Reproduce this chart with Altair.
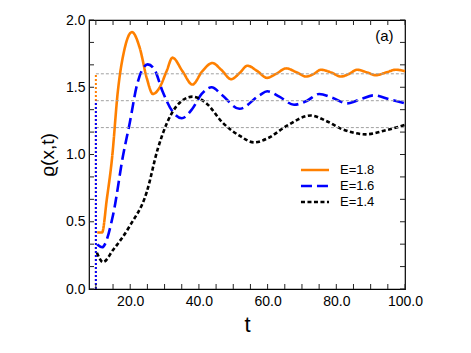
import altair as alt
import pandas as pd

# ---- data ----
t_18 = [10.4, 11.8, 13.2, 14.7, 16.4, 18.4, 20.5, 22.8, 24.8, 26.6, 28.6, 30.6, 32.3, 35.2, 38.1,
        41.0, 43.9, 46.5, 49.4, 52.0, 54.1, 57.0, 59.8, 62.5, 65.4, 68.5, 71.2, 73.5, 75.5, 78.5,
        81.3, 83.8, 86.0, 89.0, 91.5, 94.5, 97.3, 100.0]
rho_18 = [0.42, 0.42, 0.67, 0.97, 1.47, 1.79, 1.91, 1.79, 1.57, 1.45, 1.50, 1.62, 1.72, 1.62, 1.52,
          1.62, 1.68, 1.63, 1.56, 1.61, 1.66, 1.62, 1.57, 1.60, 1.64, 1.61, 1.58, 1.60, 1.63, 1.61,
          1.58, 1.60, 1.63, 1.61, 1.59, 1.61, 1.63, 1.62]

t_16 = [10.4, 11.8, 15.0, 17.9, 19.9, 21.9, 23.7, 25.1, 27.1, 29.4, 32.3, 35.0, 38.1, 40.8, 43.7,
        46.8, 51.8, 57.6, 59.9, 63.4, 67.7, 71.5, 75.0, 79.0, 83.1, 87.0, 90.9, 95.5, 100.0]
rho_16 = [0.33, 0.31, 0.55, 0.99, 1.24, 1.51, 1.64, 1.67, 1.63, 1.47, 1.32, 1.27, 1.34, 1.45, 1.50,
          1.44, 1.34, 1.44, 1.47, 1.43, 1.37, 1.40, 1.45, 1.42, 1.38, 1.41, 1.44, 1.41, 1.38]

t_14 = [10.3, 12.1, 15.0, 19.9, 24.8, 28.0, 33.5, 38.1, 42.2, 46.8, 51.8, 56.1, 60.0, 65.4, 72.6,
        77.0, 81.6, 88.6, 94.4, 100.0]
rho_14 = [0.27, 0.20, 0.29, 0.47, 0.72, 1.04, 1.36, 1.43, 1.38, 1.24, 1.14, 1.09, 1.12, 1.21, 1.29,
          1.25, 1.19, 1.15, 1.18, 1.22]

series = ["E=1.8", "E=1.6", "E=1.4"]
colors = ["#ff8000", "#0000ff", "#000000"]
dashes = [[1, 0], [11, 5], [4, 2.5]]
levels = [1.6, 1.4, 1.2]      # asymptotic levels (gray reference lines)
t_start = 10.0                # initial step position
t_end = 100.0

x_ticks = [10 + 5 * i for i in range(19)]
y_ticks = [i / 6 for i in range(13)]

W, H = 316, 269
TICK = 5

rows = []
for name, ts, vs in zip(series, [t_18, t_16, t_14], [rho_18, rho_16, rho_14]):
    for t, v in zip(ts, vs):
        rows.append({"t": t, "rho": v, "E": name})
df = pd.DataFrame(rows)

ref = pd.DataFrame({"t": [t_start] * 3, "t2": [t_end] * 3, "rho": levels, "E": series})
step_df = ref.iloc[:2]   # E=1.8 first, E=1.6 drawn on top
xt_df = pd.DataFrame({"t": x_ticks})
yt_df = pd.DataFrame({"rho": y_ticks})

xs = alt.Scale(domain=[8, 100], nice=False, zero=False)
ys = alt.Scale(domain=[0, 2], nice=False, zero=False)
cs = alt.Scale(domain=series, range=colors)
ds = alt.Scale(domain=series, range=dashes)

lab_font = "Liberation Sans"

XA = alt.Axis(values=x_ticks, orient="bottom", ticks=False, tickSize=0, domain=False, grid=False,
              labelExpr="datum.value % 20 == 0 ? format(datum.value, '.1f') : ''",
              labelFontSize=14, labelPadding=5, labelColor="black",
              title="t", titleFontSize=22, titleFontWeight="normal", titlePadding=6,
              titleColor="black", labelFlush=False, labelOverlap=False)
YA = alt.Axis(values=y_ticks, orient="left", ticks=False, tickSize=0, domain=False, grid=False,
              labelExpr="abs(datum.value*2 - round(datum.value*2)) < 0.001 ? format(datum.value, '.1f') : ''",
              labelFontSize=14, labelPadding=4, labelColor="black",
              title="ϱ(x,t)", titleFontSize=19, titleFontWeight="normal", titlePadding=8,
              titleColor="black", labelFlush=False, labelOverlap=False)

leg = alt.Legend(title=None, orient="none", legendX=217, legendY=141,
                 symbolType="M-1.87,0H1.87", symbolSize=225, symbolStrokeWidth=2.6,
                 labelFontSize=13, labelOffset=16, rowPadding=-1, labelColor="black")

# inward tick marks on all four sides, at the tick values
tick_style = dict(color="#222222", strokeWidth=1)
ticks_bottom = alt.Chart(xt_df).mark_rule(**tick_style).encode(
    x=alt.X("t:Q", scale=xs, axis=XA), y=alt.value(H), y2=alt.value(H - TICK))
ticks_top = alt.Chart(xt_df).mark_rule(**tick_style).encode(
    x=alt.X("t:Q", scale=xs, axis=XA), y=alt.value(0), y2=alt.value(TICK))
ticks_left = alt.Chart(yt_df).mark_rule(**tick_style).encode(
    y=alt.Y("rho:Q", scale=ys, axis=YA), x=alt.value(0), x2=alt.value(TICK))
ticks_right = alt.Chart(yt_df).mark_rule(**tick_style).encode(
    y=alt.Y("rho:Q", scale=ys, axis=YA), x=alt.value(W), x2=alt.value(W - TICK))

ref_lines = alt.Chart(ref).mark_rule(color="#a0a0a0", strokeWidth=1, strokeDash=[3, 2]).encode(
    x=alt.X("t:Q", scale=xs, axis=XA),
    x2="t2:Q",
    y=alt.Y("rho:Q", scale=ys, axis=YA),
)

steps = alt.Chart(step_df).mark_rule(strokeWidth=2, strokeDash=[2, 2]).encode(
    x=alt.X("t:Q", scale=xs, axis=XA),
    y=alt.Y("zero:Q", scale=ys, axis=YA),
    y2="rho:Q",
    color=alt.Color("E:N", scale=cs, sort=series, legend=leg),
).transform_calculate(zero="0")

lines = alt.Chart(df).mark_line(strokeWidth=2.6, interpolate="monotone").encode(
    x=alt.X("t:Q", scale=xs, axis=XA),
    y=alt.Y("rho:Q", scale=ys, axis=YA),
    color=alt.Color("E:N", scale=cs, sort=series, legend=leg),
    strokeDash=alt.StrokeDash("E:N", scale=ds, sort=series, legend=leg),
    order=alt.Order("t:Q"),
)

label = alt.Chart(pd.DataFrame({"t": [94.0], "rho": [1.88], "txt": ["(a)"]})).mark_text(
    fontSize=15, font=lab_font, color="black").encode(
    x=alt.X("t:Q", scale=xs, axis=XA),
    y=alt.Y("rho:Q", scale=ys, axis=YA),
    text="txt:N",
)

chart = alt.layer(lines, ref_lines, steps, ticks_bottom, ticks_top, ticks_left, ticks_right, label).properties(
    width=W, height=H,
    autosize=alt.AutoSizeParams(type="none"),
    padding={"left": 81, "top": 12, "right": 50, "bottom": 50},
).configure(font=lab_font).configure_view(stroke="black", strokeWidth=1.2)

chart.save("out.html", embed_options={"renderer": "svg", "actions": False})
